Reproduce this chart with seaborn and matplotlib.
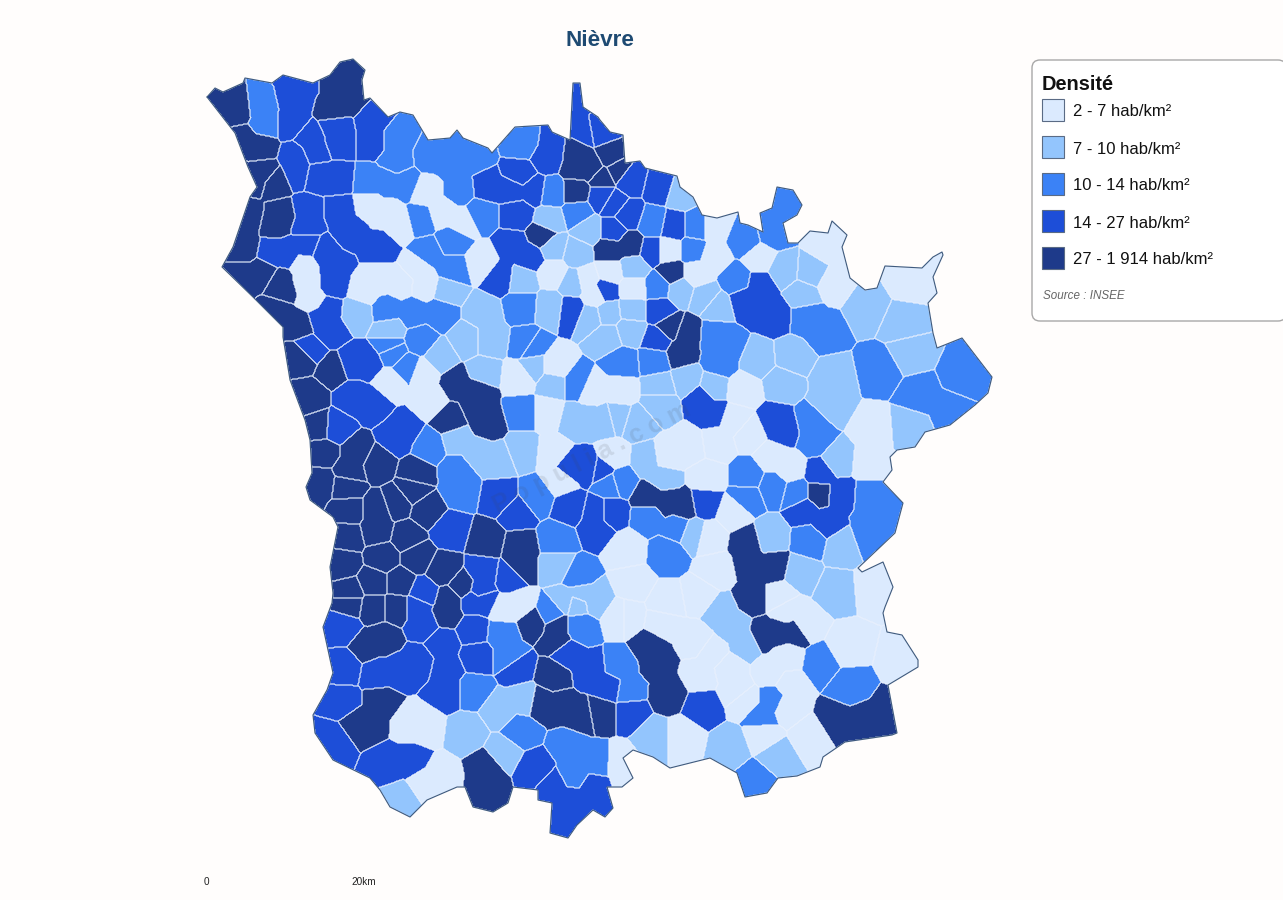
import numpy as np
import matplotlib
matplotlib.use("Agg")
import matplotlib.pyplot as plt
from matplotlib.colors import ListedColormap
from matplotlib.patches import FancyBboxPatch, Rectangle
from matplotlib.path import Path
import seaborn as sns

TITLE = "Nièvre"
LEGEND_TITLE = "Densité"
LABELS = ["2 - 7 hab/km²", "7 - 10 hab/km²", "10 - 14 hab/km²", "14 - 27 hab/km²", "27 - 1 914 hab/km²"]
COLORS = ["#dbeafe", "#93c5fd", "#3b82f6", "#1d4ed8", "#1e3a8a"]

OUTLINE = [(207,97),(215,88),(223,92),(243,83),(245,78),(272,83),(283,75),(313,83),(330,75),(340,62),(353,59),(365,70),(362,80),(364,100),(370,98),(388,117),(400,112),(413,115),(428,140),(450,138),(457,130),(463,138),(488,148),(492,153),(515,127),(548,125),(552,132),(570,140),(573,83),(580,83),(583,107),(598,117),(600,120),(610,132),(623,135),(625,163),(640,161),(645,168),(677,176),(680,187),(693,197),(702,215),(717,218),(738,212),(740,223),(748,225),(763,232),(760,213),(772,208),(777,187),(793,190),(802,205),(797,215),(783,223),(788,243),(798,243),(810,231),(828,233),(832,221),(847,235),(842,247),(850,278),(865,290),(877,288),(885,266),(922,268),(933,257),(942,252),(943,255),(933,277),(937,293),(928,303),(933,333),(937,348),(962,338),(992,377),(988,393),(975,405),(950,425),(925,432),(915,447),(897,450),(890,457),(892,470),(883,482),(903,503),(895,533),(858,568),(862,572),(883,562),(893,587),(885,607),(883,613),(887,632),(902,635),(918,660),(918,667),(888,685),(897,733),(892,735),(845,742),(823,757),(820,767),(797,776),(778,778),(767,793),(745,797),(737,773),(710,758),(670,768),(653,757),(633,750),(623,758),(633,778),(622,787),(607,787),(613,808),(605,817),(593,810),(577,825),(568,838),(550,833),(552,803),(538,800),(538,790),(513,787),(508,803),(493,812),(473,807),(465,787),(457,787),(427,800),(410,817),(390,807),(380,790),(370,778),(333,760),(315,733),(313,715),(327,690),(333,673),(323,627),(332,603),(333,593),(330,567),(338,527),(333,517),(310,500),(306,487),(312,473),(310,440),(305,420),(290,380),(283,337),(283,327),(253,297),(222,267),(233,247),(250,197),(257,187),(248,167),(235,133)]

C0 = [[(385,213),(370,205),(400,225)],[(443,213),(425,190),(462,222)],[(482,263)],[(307,283),(305,265),(312,300)],[(380,280),(365,290),(400,283)],[(417,267),(425,285)],[(553,273)],[(587,280),(595,295)],[(610,272)],[(633,288)],[(668,250)],[(713,227),(713,257),(697,273)],[(760,258)],[(827,247),(833,283)],[(910,280)],[(390,383),(430,400),(423,373)],[(520,377)],[(547,413),(553,453),(560,480)],[(593,390),(620,390)],[(556,367)],[(613,457)],[(690,447),(667,457)],[(717,443),(735,420)],[(750,433),(743,390)],[(773,457),(790,468)],[(707,477)],[(873,430),(870,463)],[(733,513)],[(627,550)],[(710,537)],[(717,570)],[(633,583)],[(667,603)],[(700,597)],[(780,597)],[(787,610),(805,625)],[(873,587)],[(620,617)],[(663,623),(695,640)],[(713,653),(700,675)],[(737,690),(730,668)],[(787,657),(770,672)],[(847,647)],[(903,660)],[(787,707),(790,685)],[(810,737)],[(763,735),(745,700)],[(683,737)],[(423,727),(410,725)],[(440,777),(425,785)],[(520,605),(505,610)],[(627,617)],[(620,763),(628,775)]]
C1 = [[(550,220)],[(553,247)],[(577,253)],[(588,230)],[(522,280)],[(550,307)],[(573,283)],[(590,317)],[(357,313)],[(390,330)],[(447,290)],[(483,313),(490,340)],[(467,340)],[(680,193)],[(633,268)],[(632,310)],[(608,313)],[(630,330)],[(607,337)],[(680,290)],[(705,297)],[(717,307)],[(783,270)],[(812,272)],[(803,295)],[(867,307)],[(903,323)],[(910,353)],[(758,360)],[(792,357)],[(782,383)],[(833,380),(830,405)],[(660,387)],[(687,380)],[(713,387)],[(440,357)],[(483,373)],[(533,367)],[(553,383)],[(477,453),(497,460),(457,440)],[(523,450)],[(590,420),(575,420),(605,420)],[(557,567)],[(580,595),(565,600),(595,600)],[(660,403)],[(637,423)],[(617,417)],[(663,477),(647,460)],[(693,533)],[(770,537)],[(842,547)],[(800,573)],[(837,590)],[(910,427)],[(837,460)],[(733,627),(720,612),(745,645)],[(653,737)],[(730,747)],[(777,757)],[(467,733)],[(500,710),(525,700)],[(503,753)],[(403,800)],[(577,603)]]
C2 = [[(262,107),(265,123)],[(397,140),(397,160)],[(450,163),(430,157),(460,190),(473,157)],[(523,143)],[(387,183),(370,183),(407,183)],[(420,220)],[(480,213)],[(453,240)],[(427,253),(453,270)],[(413,313),(387,310),(440,313)],[(553,193)],[(577,213)],[(522,305)],[(420,340)],[(390,345)],[(527,345)],[(653,223)],[(697,227)],[(693,250)],[(745,240)],[(737,280)],[(780,203),(773,233)],[(658,287)],[(823,330),(807,317)],[(727,347),(720,362),(715,335)],[(622,363)],[(655,360)],[(880,370)],[(963,377)],[(920,395),(950,410)],[(430,447)],[(460,490),(457,470)],[(523,413)],[(537,497)],[(557,540)],[(577,577)],[(393,352)],[(407,367)],[(530,347)],[(577,383)],[(610,483)],[(620,480)],[(650,517),(677,527)],[(667,553)],[(748,477)],[(747,497)],[(773,487)],[(797,493)],[(810,540)],[(873,517),(870,497),(870,537)],[(813,423),(815,440)],[(510,657),(503,633)],[(473,690)],[(520,730)],[(580,757),(570,745),(597,762),(575,775)],[(620,667),(628,690)],[(550,613)],[(580,627)],[(820,663)],[(850,687)],[(762,716),(772,700)],[(757,780)]]
C3 = [[(293,100),(290,123),(297,85)],[(372,120),(372,140)],[(340,140),(337,127)],[(310,140),(313,150)],[(298,173),(297,157)],[(337,180),(317,177)],[(307,223),(307,210)],[(350,230),(340,210),(380,247)],[(287,253),(273,253),(307,247)],[(333,267),(333,283),(323,253)],[(320,317),(327,310),(330,330)],[(513,190),(487,187),(533,190)],[(520,175)],[(547,157),(553,147)],[(517,213)],[(513,247),(500,277),(530,257)],[(583,133),(577,100)],[(600,130)],[(572,310)],[(630,180)],[(660,187)],[(613,203)],[(628,215)],[(613,230)],[(603,197)],[(673,227)],[(653,250)],[(605,290)],[(660,310)],[(658,340)],[(760,307),(745,300),(775,315),(760,285)],[(702,398),(712,412)],[(353,363),(367,363)],[(310,350)],[(353,397),(373,403)],[(335,428)],[(403,430),(397,437)],[(450,530)],[(500,497)],[(517,513)],[(570,507)],[(570,467),(587,467)],[(597,513),(597,527)],[(483,573),(480,590)],[(510,577)],[(423,593)],[(610,513),(603,470)],[(783,430),(775,422)],[(705,503)],[(840,495),(826,522),(805,510),(820,473)],[(343,627)],[(345,667)],[(397,670),(377,673),(417,663)],[(343,703)],[(333,740)],[(390,763),(410,760)],[(423,623),(417,607)],[(447,670),(447,690),(443,643)],[(473,630)],[(477,657)],[(473,600),(483,600)],[(517,667)],[(590,670),(567,653),(610,687)],[(630,713)],[(535,770)],[(573,800),(553,787),(593,787),(560,823)],[(703,707)]]
C4 = [[(223,103),(237,110)],[(260,147),(243,140)],[(263,173),(257,178)],[(275,183),(248,217),(243,247)],[(282,215),(275,223)],[(243,277),(263,273)],[(283,290),(280,283)],[(277,310),(300,323)],[(340,85),(335,110),(345,70),(350,100)],[(577,167),(592,167),(575,150)],[(575,192)],[(543,236)],[(610,157)],[(617,170)],[(603,177)],[(610,250),(630,245)],[(672,273)],[(670,327)],[(687,333),(680,353)],[(333,370)],[(303,357)],[(310,397)],[(320,427)],[(323,452)],[(320,483),(310,490)],[(357,453),(350,470)],[(377,463)],[(347,487)],[(348,510)],[(377,510),(377,530)],[(413,490)],[(397,503)],[(427,510)],[(417,473)],[(347,537)],[(343,563)],[(383,557)],[(407,537)],[(417,557)],[(443,570)],[(487,540)],[(520,547),(520,567)],[(450,420)],[(477,407),(477,390),(487,423),(457,383)],[(350,593)],[(373,583)],[(400,583)],[(463,587)],[(350,603)],[(373,607)],[(397,607)],[(383,640),(367,647)],[(447,613),(450,600)],[(533,622)],[(557,640),(557,627)],[(553,675)],[(560,707),(540,703),(580,717)],[(602,713)],[(370,723),(380,703),(357,723)],[(487,783),(487,767),(490,800)],[(657,663),(650,647),(668,693)],[(780,633),(765,635),(795,632)],[(863,720),(837,720),(887,713)],[(667,503),(650,497),(683,507)],[(750,563),(747,543),(753,597),(773,567)],[(819,494)]]
CLASS_REGIONS = [C0, C1, C2, C3, C4]

X0, X1, Y0, Y1 = 200, 1000, 50, 850
W, H = 1283, 900
sns.set_theme(style="white")
plt.rcParams["font.family"] = ["Liberation Sans", "DejaVu Sans"]
BG = "#fffdfc"
fig = plt.figure(figsize=(W/100, H/100), dpi=100, facecolor=BG)
ax = fig.add_axes([X0/W, 1-Y1/H, (X1-X0)/W, (Y1-Y0)/H])
ax.set_facecolor(BG)

pts, rid, cls = [], [], []
region_id = 0
for c, regions in enumerate(CLASS_REGIONS):
    for reg in regions:
        for p in reg:
            pts.append(p); rid.append(region_id); cls.append(c)
        region_id += 1
pts = np.array(pts, float); rid = np.array(rid); cls = np.array(cls)

xc = np.arange(X0, X1) + 0.5
yc = np.arange(Y0, Y1) + 0.5
labels = np.zeros((len(yc), len(xc)), dtype=np.int32)
for i, y in enumerate(yc):
    d = (xc[:, None]-pts[:, 0])**2 + (y-pts[:, 1])**2
    labels[i] = d.argmin(axis=1)
gx, gy = np.meshgrid(xc, yc)
inside = Path(OUTLINE).contains_points(np.c_[gx.ravel(), gy.ravel()]).reshape(gx.shape)
grid_class = cls[labels].astype(float)
sns.heatmap(grid_class, mask=~inside, cmap=ListedColormap(COLORS), vmin=-0.5, vmax=4.5,
            cbar=False, ax=ax, xticklabels=False, yticklabels=False, rasterized=True)

grid_rid = np.where(inside, rid[labels], -1)
cx = xc - X0; cy = yc - Y0
for r in range(region_id):
    m = (grid_rid == r).astype(float)
    ys, xs = np.nonzero(m)
    if len(xs) == 0:
        continue
    a, b = max(ys.min()-2, 0), ys.max()+3
    c, d = max(xs.min()-2, 0), xs.max()+3
    ax.contour(cx[c:d], cy[a:b], m[a:b, c:d], levels=[0.5], colors="#e8f0fd", linewidths=0.6, alpha=0.85)
ol = np.array(OUTLINE + OUTLINE[:1], float)
ax.plot(ol[:, 0]-X0, ol[:, 1]-Y0, color="#3f5a7d", lw=0.8)
ax.set_xlim(0, X1-X0); ax.set_ylim(Y1-Y0, 0)
ax.axis("off")

ov = fig.add_axes([0, 0, 1, 1], facecolor="none")
ov.set_xlim(0, W); ov.set_ylim(H, 0); ov.axis("off")
ov.text(600, 40, TITLE, ha="center", va="center", fontsize=16.2, fontweight="bold", color="#1e4a72")
ov.add_patch(FancyBboxPatch((1039, 67), 240, 247, boxstyle="round,pad=7,rounding_size=8",
                            fc="#ffffff", ec="#a8a8a8", lw=1))
ov.text(1042, 85, LEGEND_TITLE, ha="left", va="center", fontsize=14.4, fontweight="bold", color="#111111")
for i, (col, lab) in enumerate(zip(COLORS, LABELS)):
    y = 99 + 37*i
    ov.add_patch(Rectangle((1042, y), 22, 22, fc=col, ec="#5a6b85", lw=0.8))
    ov.text(1073, y+13, lab, ha="left", va="center", fontsize=12, color="#111111")
ov.text(1043, 296, "Source : INSEE", ha="left", va="center", fontsize=8.4, style="italic", color="#666666")
ov.text(204, 882, "0", ha="left", va="center", fontsize=7.2, color="#222222")
ov.text(351, 882, "20km", ha="left", va="center", fontsize=7.2, color="#222222")
ov.text(592, 458, "P o p u l i a . c o m", rotation=27, ha="center", va="center", fontsize=18,
        fontweight="bold", color="#444444", alpha=0.12)
fig.savefig("out.png", dpi=100, facecolor=BG)
